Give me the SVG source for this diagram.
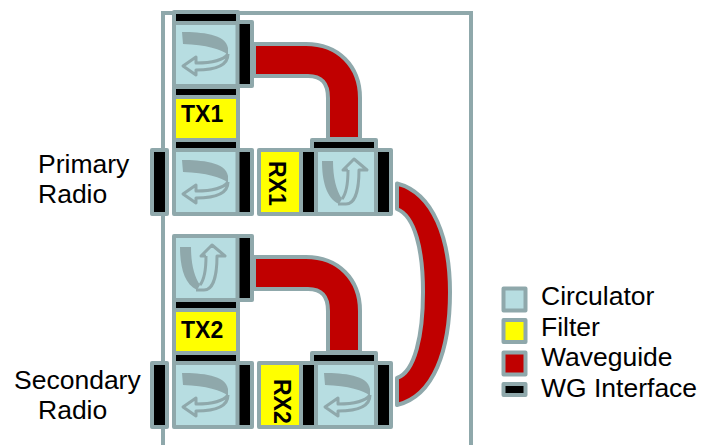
<svg xmlns="http://www.w3.org/2000/svg" width="701" height="445" viewBox="0 0 701 445">
<style>
.o{stroke:#8fa8ab;stroke-width:4;stroke-linejoin:round}
.c{fill:#b7dde1}.f{fill:#ffff00}.w{fill:#c00000}.i{fill:#000}
.t{font-family:"Liberation Sans",Arial,sans-serif;font-size:26.5px;fill:#000}
.b{font-family:"Liberation Sans",Arial,sans-serif;font-size:23px;font-weight:bold;fill:#000}
.band{fill:#8fa8ab}
.arr{fill:none;stroke:#8fa8ab;stroke-width:3;stroke-linejoin:round}
</style>
<defs>
<g id="curl">
<path class="band" d="M6,8 C25,8 50,10 52,24 L52,31 C46,25 30,21 7,20 Z"/>
<path class="arr" d="M52,30 C46,38 32,39 20,39 L20,33 L7,42 L20,51 L20,46 C38,46 52,42 52,30"/>
</g>
<g id="uturn">
<path class="band" d="M4,9 H15 C15,25 18,38 24,47 L21,52 C8,46 4,28 4,9 Z"/>
<path class="arr" d="M30,18 H25 L36,7 L49,18 H41 C41,35 38,52 28,52 H20 M30,18 C30,32 28,42 24,47"/>
</g>
</defs>
<path id="frame" d="M163,445 V13 H471 V445" fill="none" stroke="#8fa8ab" stroke-width="4"/>
<g id="connectors">
<path id="wg1" class="o w" d="M254,44 H306 C338,44 360,66 360,98 V139 H328 V98 C328,83 322,76 308,76 H254 Z"/>
<path id="wg2" class="o w" d="M254,257 H306 C338,257 360,279 360,311 V352 H328 V311 C328,296 322,289 308,289 H254 Z"/>
<path id="wg3" class="o w" d="M397,183.500 C434,193 450,240 450,292 C450,350 434,396 397,405 V378 C415,372 423,335 423,292 C423,250 415,216 397,209 Z"/>
</g>
<g id="circ1">
<rect class="o c" x="174" y="22" width="64" height="64"/>
<use href="#curl" x="176" y="24"/>
<rect class="o i" x="174" y="12" width="64" height="11"/>
<rect class="o i" x="237.500" y="22" width="14.500" height="64"/>
<rect class="o i" x="174" y="87" width="64" height="10"/>
</g>
<g id="tx1">
<rect class="o f" x="174" y="97" width="64" height="43"/>
<text class="b" x="181" y="122">TX1</text>
</g>
<g id="circ2">
<rect class="o i" x="174" y="140" width="64" height="10"/>
<rect class="o c" x="174" y="150" width="64" height="64"/>
<use href="#curl" x="176" y="152"/>
<rect class="o i" x="152" y="150" width="15" height="64"/>
<rect class="o i" x="237.500" y="150" width="14.500" height="64"/>
</g>
<g id="rx1">
<rect class="o f" x="259" y="150" width="42" height="64"/>
<text class="b" transform="translate(269,161) rotate(90)">RX1</text>
</g>
<g id="circ3">
<rect class="o c" x="316" y="150" width="60" height="64"/>
<use href="#uturn" x="318" y="152"/>
<rect class="o i" x="312" y="140" width="64" height="10"/>
<rect class="o i" x="301" y="150" width="15" height="64"/>
<rect class="o i" x="376" y="150" width="15" height="64"/>
</g>
<g id="circ4">
<rect class="o c" x="174" y="236" width="64" height="64"/>
<use href="#uturn" x="176" y="238"/>
<rect class="o i" x="237.500" y="236" width="14.500" height="64"/>
<rect class="o i" x="174" y="300" width="64" height="10"/>
</g>
<g id="tx2">
<rect class="o f" x="174" y="310" width="64" height="43"/>
<text class="b" x="181" y="338">TX2</text>
</g>
<g id="circ5">
<rect class="o i" x="174" y="353" width="64" height="10"/>
<rect class="o c" x="174" y="363" width="64" height="64"/>
<use href="#curl" x="176" y="365"/>
<rect class="o i" x="152" y="363" width="15" height="64"/>
<rect class="o i" x="237.500" y="363" width="14.500" height="64"/>
</g>
<g id="rx2">
<rect class="o f" x="259" y="363" width="42" height="64"/>
<text class="b" transform="translate(274,379) rotate(90)">RX2</text>
</g>
<g id="circ6">
<rect class="o c" x="316" y="363" width="60" height="64"/>
<use href="#curl" x="318" y="365"/>
<rect class="o i" x="312" y="353" width="64" height="10"/>
<rect class="o i" x="301" y="363" width="15" height="64"/>
<rect class="o i" x="376" y="363" width="15" height="64"/>
</g>
<g id="labels">
<text class="t" x="38" y="173">Primary</text>
<text class="t" x="38" y="203">Radio</text>
<text class="t" x="14" y="389">Secondary</text>
<text class="t" x="38" y="419">Radio</text>
</g>
<g id="legend">
<rect class="o c" x="503.500" y="288.500" width="22" height="22"/>
<rect class="o f" x="503.500" y="320" width="22" height="22"/>
<rect class="o w" x="503.500" y="352.500" width="22" height="22"/>
<rect class="o i" x="503.500" y="384" width="22" height="11"/>
<text class="t" x="541" y="305">Circulator</text>
<text class="t" x="541" y="336">Filter</text>
<text class="t" x="541" y="366">Waveguide</text>
<text class="t" x="541" y="397">WG Interface</text>
</g>
</svg>
